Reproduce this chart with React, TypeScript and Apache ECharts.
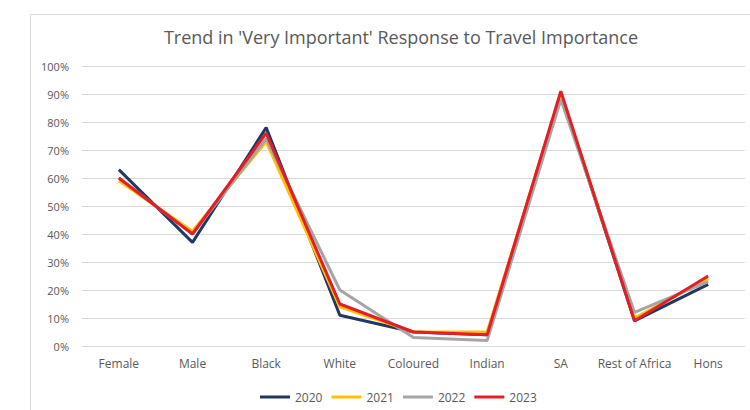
import React, { useEffect, useRef } from "react";
import * as echarts from "echarts";

const categories = ["Female", "Male", "Black", "White", "Coloured", "Indian", "SA", "Rest of Africa", "Hons"];
const years = ["2020", "2021", "2022", "2023"];
const values2020 = [63, 37, 78, 11, 5, 4, 90, 9, 22];
const values2021 = [59, 41, 73, 14, 5, 5, 90, 10, 24];
const values2022 = [60, 40, 74, 20, 3, 2, 88, 12, 23];
const values2023 = [60, 40, 76, 15, 5, 4, 91, 9, 25];
const yearColors = ["#1F3864", "#FFC000", "#A5A5A5", "#E31E24"];

const FONT = "'Open Sans', 'Noto Sans', sans-serif";

export default function App() {
  const ref = useRef<HTMLDivElement>(null);

  useEffect(() => {
    if (!ref.current) return;
    const chart = echarts.init(ref.current, null, { renderer: "svg" });
    const seriesValues = [values2020, values2021, values2022, values2023];
    chart.setOption({
      animation: false,
      backgroundColor: "#ffffff",
      title: {
        text: "Trend in 'Very Important' Response to Travel Importance",
        left: 396,
        top: 23,
        textAlign: "center",
        textStyle: { fontFamily: FONT, fontSize: 18, fontWeight: "normal", color: "#595959" },
      },
      graphic: [
        {
          type: "rect",
          shape: { x: 30.5, y: 14.5, width: 800, height: 500 },
          style: { fill: "none", stroke: "#D9D9D9", lineWidth: 1 },
          silent: true,
        },
      ],
      legend: {
        data: years,
        left: 255,
        top: 386,
        icon: "rect",
        itemWidth: 30,
        itemHeight: 3,
        itemGap: 9,
        textStyle: { fontFamily: FONT, fontSize: 12, color: "#595959" },
      },
      grid: { left: 82, right: 5, top: 66, bottom: 64 },
      xAxis: {
        type: "category",
        data: categories,
        boundaryGap: true,
        axisLine: { show: false },
        axisTick: { show: false },
        axisLabel: { interval: 0, fontFamily: FONT, fontSize: 12, color: "#595959", margin: 11 },
      },
      yAxis: {
        type: "value",
        min: 0,
        max: 100,
        interval: 10,
        axisLine: { show: false },
        axisTick: { show: false },
        splitLine: { lineStyle: { color: "#D9D9D9", width: 1 } },
        axisLabel: {
          fontFamily: FONT,
          fontSize: 11,
          color: "#595959",
          margin: 13,
          formatter: (v: number) => `${v}%`,
        },
      },
      series: years.map((y, i) => ({
        name: y,
        type: "line",
        data: seriesValues[i],
        symbol: "none",
        color: yearColors[i],
        lineStyle: { width: 3, color: yearColors[i] },
        z: 2 + i,
      })),
    });
    return () => chart.dispose();
  }, []);

  return (
    <div
      ref={ref}
      style={{ position: "fixed", left: 0, top: 0, width: 750, height: 410 }}
    />
  );
}
